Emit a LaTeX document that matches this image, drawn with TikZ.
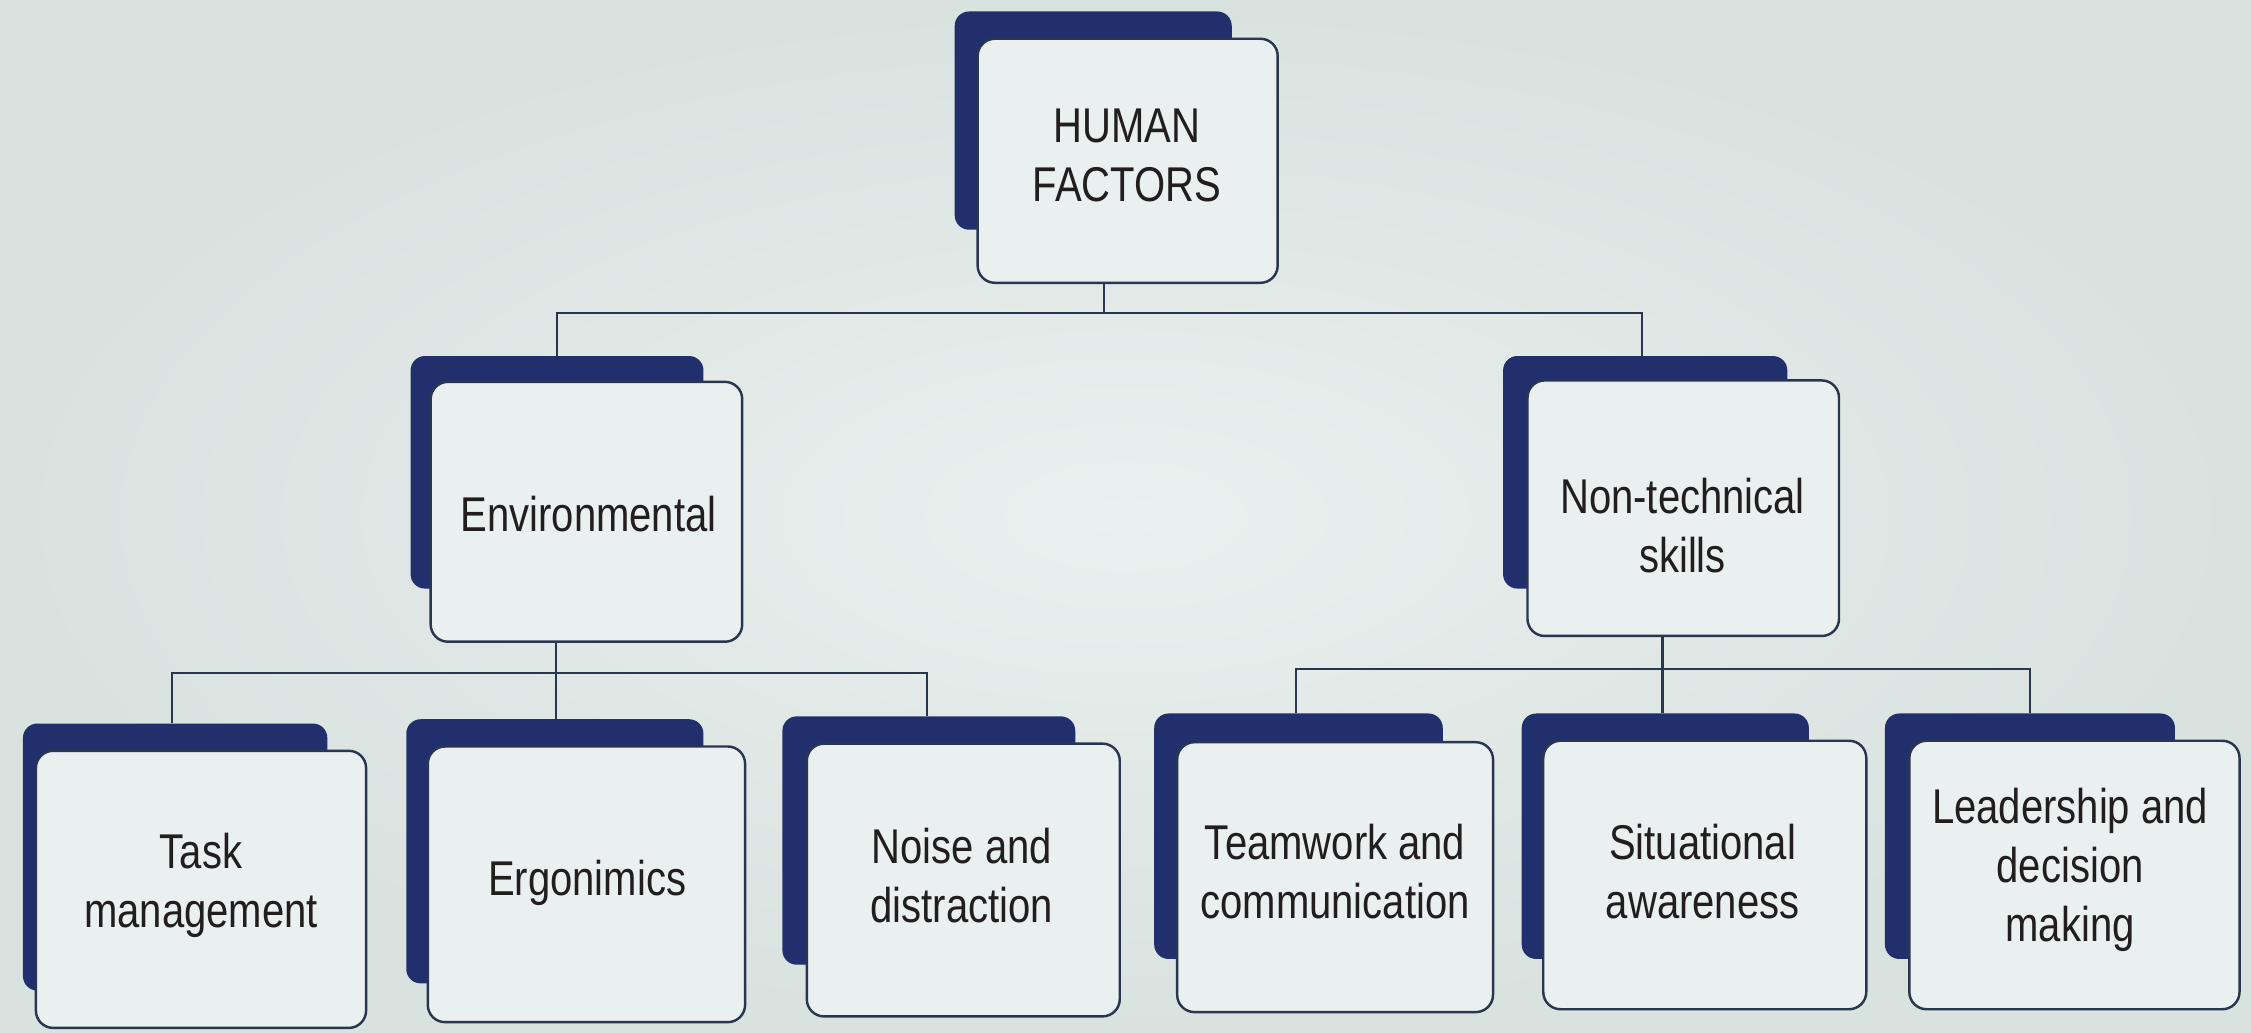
\documentclass[tikz,border=0pt]{standalone}
\usepackage{fontspec}
\setmainfont[FakeStretch=0.82]{Liberation Sans}
\begin{document}
\definecolor{bgedge}{RGB}{216,226,223}
\definecolor{bgmid}{RGB}{234,240,239}
\definecolor{boxfill}{RGB}{234,239,240}
\definecolor{navy}{RGB}{33,48,108}
\definecolor{linecol}{RGB}{40,54,80}
\definecolor{txt}{RGB}{34,30,30}
\begin{tikzpicture}[x=1pt,y=-1pt,
  backbox/.style={draw=none,fill=navy,rounded corners=10pt,inner sep=0pt},
  frontbox/.style={draw=linecol,line width=1.7pt,fill=boxfill,rounded corners=12pt,inner sep=0pt},
  lbl/.style={align=center,text=txt,font=\fontsize{34}{41}\selectfont,inner sep=0pt},
  link/.style={draw=linecol,line width=1.5pt}]
  % backdrop
  \useasboundingbox (0,0) rectangle (1568,719);
  \shade[inner color=bgmid,outer color=bgedge] (0,0) rectangle (1568,719);

  % top level
  \node[backbox,minimum width=193pt,minimum height=152pt] (hf-b) at (761.5,84) {};
  \node[frontbox,minimum width=209pt,minimum height=170pt] (hf) at (785.5,112) {};
  \node[lbl] (hf-t) at (785,108) {HUMAN\\FACTORS};

  % second level
  \node[backbox,minimum width=204pt,minimum height=162pt] (env-b) at (388,329) {};
  \node[frontbox,minimum width=217pt,minimum height=181pt] (env) at (408.5,356.5) {};
  \node[lbl] (env-t) at (410,358) {Environmental};

  \node[backbox,minimum width=198pt,minimum height=162pt] (nts-b) at (1146,329) {};
  \node[frontbox,minimum width=217pt,minimum height=178pt] (nts) at (1172.5,354) {};
  \node[lbl] (nts-t) at (1172,366) {Non-technical\\skills};

  % third level, environmental branch
  \node[backbox,minimum width=212pt,minimum height=186pt] (tm-b) at (122,597) {};
  \node[frontbox,minimum width=230pt,minimum height=193pt] (tm) at (140,619.5) {};
  \node[lbl] (tm-t) at (140,617) {Task\\management};

  \node[backbox,minimum width=207pt,minimum height=184pt] (er-b) at (386.5,593) {};
  \node[frontbox,minimum width=221pt,minimum height=192pt] (er) at (408.5,616) {};
  \node[lbl] (er-t) at (409,615) {Ergonimics};

  \node[backbox,minimum width=204pt,minimum height=173pt] (nd-b) at (647,585.5) {};
  \node[frontbox,minimum width=218pt,minimum height=190pt] (nd) at (671,613) {};
  \node[lbl] (nd-t) at (670,610) {Noise and\\distraction};

  % third level, non-technical branch
  \node[backbox,minimum width=201pt,minimum height=171pt] (tc-b) at (904.5,582.5) {};
  \node[frontbox,minimum width=220pt,minimum height=188pt] (tc) at (930,611) {};
  \node[lbl] (tc-t) at (930,607) {Teamwork and\\communication};

  \node[backbox,minimum width=200pt,minimum height=171pt] (sa-b) at (1160,582.5) {};
  \node[frontbox,minimum width=225pt,minimum height=187pt] (sa) at (1187.5,609.5) {};
  \node[lbl] (sa-t) at (1186,607) {Situational\\awareness};

  \node[backbox,minimum width=202pt,minimum height=171pt] (ld-b) at (1414,582.5) {};
  \node[frontbox,minimum width=230pt,minimum height=187pt] (ld) at (1445,609.5) {};
  \node[lbl] (ld-t) at (1442,606) {Leadership and\\decision\\making};

  % junctions of the tree
  \coordinate (j0) at (769,218);
  \coordinate (j0l) at (388,218);
  \coordinate (j0r) at (1144,218);
  \coordinate (j1) at (387,469);
  \coordinate (j1l) at (120,469);
  \coordinate (j1r) at (646,469);
  \coordinate (j2) at (1158,466);
  \coordinate (j2l) at (903,466);
  \coordinate (j2r) at (1414,466);

  % connectors
  \draw[link] (j0 |- hf.south) -- (j0);
  \draw[link] (j0l |- env-b.north) -- (j0l) -- (j0r) -- (j0r |- nts-b.north);

  \draw[link] (j1 |- env.south) -- (j1) -- (j1 |- er-b.north);
  \draw[link] (j1l |- tm-b.north) -- (j1l) -- (j1r) -- (j1r |- nd-b.north);

  \draw[link] (j2 |- nts.south) -- (j2) -- (j2 |- sa-b.north);
  \draw[link] (j2l |- tc-b.north) -- (j2l) -- (j2r) -- (j2r |- ld-b.north);
\end{tikzpicture}
\end{document}
